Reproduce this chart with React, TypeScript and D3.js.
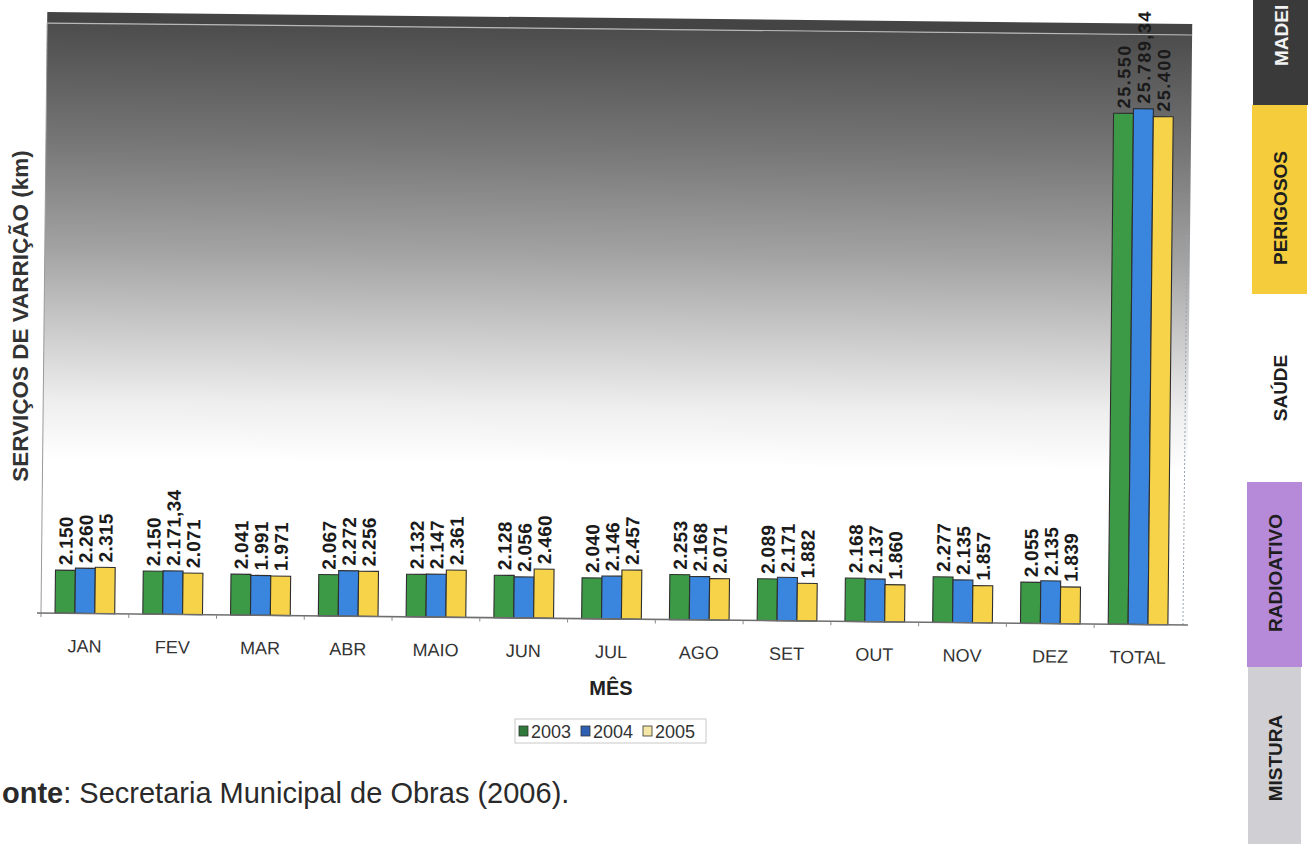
import React from "react";
import * as d3 from "d3";

const months = ["JAN", "FEV", "MAR", "ABR", "MAIO", "JUN", "JUL", "AGO", "SET", "OUT", "NOV", "DEZ", "TOTAL"];
const years = ["2003", "2004", "2005"];
const values2003 = [2150, 2150, 2041, 2067, 2132, 2128, 2040, 2253, 2089, 2168, 2277, 2055, 25550];
const values2004 = [2260, 2171.34, 1991, 2272, 2147, 2056, 2146, 2168, 2171, 2137, 2135, 2135, 25789.34];
const values2005 = [2315, 2071, 1971, 2256, 2361, 2460, 2457, 2071, 1882, 1860, 1857, 1839, 25400];
const seriesValues = [values2003, values2004, values2005];
const seriesColors = ["#3c9a47", "#3a86de", "#f6d348"];
const legendColors = ["#2f7a3a", "#2f5fb3", "#f4e7a6"];
const sideTabs = ["MADEI", "PERIGOSOS", "SAÚDE", "RADIOATIVO", "MISTURA"];

const ptBR = d3.formatLocale({ decimal: ",", thousands: ".", grouping: [3], currency: ["R$", ""] });
const fmt = ptBR.format(",.2~f");

export default function App() {
  const W = 1308;
  const H = 844;
  const plotLeft = 41;
  const plotRight = 1186;
  const plotTop = 23;
  const baseY = 613;

  const x0 = d3.scaleBand<string>().domain(months).range([41, 1182]).paddingInner(0.32).paddingOuter(0.16);
  const x1 = d3.scaleBand<string>().domain(years).range([0, x0.bandwidth()]).padding(0);
  const y = d3.scaleLinear().domain([0, 30000]).range([baseY, 13]);

  const font = "Arial, 'Liberation Sans', Helvetica, sans-serif";

  const tabs = [
    { label: sideTabs[0], x: 1253, w: 56, y0: 0, y1: 105, fill: "#3a3a3a", color: "#f2f2f2", anchor: "start", ty: 66 },
    { label: sideTabs[1], x: 1252, w: 55, y0: 105, y1: 294, fill: "#f5cd3c", color: "#1e1e1e", anchor: "middle", ty: 208 },
    { label: sideTabs[2], x: 1252, w: 55, y0: 0, y1: 0, fill: "none", color: "#1e1e1e", anchor: "middle", ty: 388 },
    { label: sideTabs[3], x: 1247, w: 55, y0: 482, y1: 667, fill: "#b68ad9", color: "#1e1e1e", anchor: "middle", ty: 573 },
    { label: sideTabs[4], x: 1248, w: 53, y0: 667, y1: 844, fill: "#d0d0d4", color: "#1e1e1e", anchor: "middle", ty: 758 },
  ];

  return (
    <svg
      width={W}
      height={H}
      style={{ position: "absolute", left: 0, top: 0, display: "block", background: "#fff" }}
      fontFamily={font}
    >
      <defs>
        <linearGradient id="bgGrad" x1="0" y1="0" x2="0" y2="1">
          <stop offset="0" stopColor="#4c4c4c" />
          <stop offset="0.2" stopColor="#767676" />
          <stop offset="0.38" stopColor="#a2a2a2" />
          <stop offset="0.52" stopColor="#cbcbcb" />
          <stop offset="0.64" stopColor="#eeeeee" />
          <stop offset="0.74" stopColor="#ffffff" />
          <stop offset="1" stopColor="#ffffff" />
        </linearGradient>
      </defs>

      <g transform={`rotate(0.6, ${plotLeft}, ${baseY})`}>
        <rect x={plotLeft} y={plotTop - 11} width={plotRight - plotLeft} height={11} fill="#444" />
        <rect x={plotLeft} y={plotTop} width={plotRight - plotLeft} height={baseY - plotTop} fill="url(#bgGrad)" />
        <line x1={plotLeft} x2={plotRight} y1={plotTop} y2={plotTop} stroke="#b8b8b8" strokeWidth={1.2} />
        <line x1={plotLeft} x2={plotLeft} y1={plotTop} y2={baseY} stroke="#9a9a9a" strokeWidth={1} />
        <line x1={plotRight - 3} x2={plotRight - 3} y1={plotTop + 200} y2={baseY} stroke="#9aa4b0" strokeWidth={1} strokeDasharray="2,2" />

        {months.map((m, i) => (
          <g key={m} transform={`translate(${x0(m)},0)`}>
            {years.map((yr, s) => {
              const v = seriesValues[s][i];
              const bx = x1(yr) as number;
              const bw = x1.bandwidth();
              const top = y(v);
              return (
                <rect key={yr} x={bx} y={top} width={bw} height={baseY - top} fill={seriesColors[s]} stroke="#2e2e2e" strokeWidth={1.1} />
              );
            })}
          </g>
        ))}

        {months.map((m, i) => (
          <g key={"l" + m} transform={`translate(${x0(m)},0)`}>
            {years.map((yr, s) => {
              const v = seriesValues[s][i];
              const cx = (x1(yr) as number) + x1.bandwidth() / 2;
              const top = y(v);
              const isTotal = m === "TOTAL";
              const fs = isTotal ? 18 : 19;
              return (
                <text
                  key={yr}
                  transform={`translate(${cx + fs * 0.36},${top - 5}) rotate(-90)`}
                  fontSize={fs}
                  fontWeight="bold"
                  fill="#1a1a1a"
                  textAnchor="start"
                  letterSpacing={isTotal ? 1.5 : 0.3}
                >
                  {fmt(v)}
                </text>
              );
            })}
          </g>
        ))}

        <line x1={plotLeft - 4} x2={plotRight + 2} y1={baseY} y2={baseY} stroke="#6e6e6e" strokeWidth={1.6} />
        {months.map((m) => (
          <line
            key={"t" + m}
            x1={(x0(m) as number) - (x0.step() - x0.bandwidth()) / 2}
            x2={(x0(m) as number) - (x0.step() - x0.bandwidth()) / 2}
            y1={baseY}
            y2={baseY + 4}
            stroke="#8a8a8a"
            strokeWidth={1}
          />
        ))}
        {months.map((m) => (
          <text
            key={"x" + m}
            x={(x0(m) as number) + x0.bandwidth() / 2}
            y={baseY + 39}
            fontSize={18}
            textAnchor="middle"
            fill="#333"
          >
            {m}
          </text>
        ))}
      </g>

      <text x={611} y={695} fontSize={20} fontWeight="bold" textAnchor="middle" fill="#222">
        MÊS
      </text>

      <text
        transform={`translate(28,316) rotate(-90)`}
        fontSize={22.5}
        fontWeight="bold"
        textAnchor="middle"
        fill="#333"
      >
        SERVIÇOS DE VARRIÇÃO (km)
      </text>

      <rect x={515} y={719} width={191} height={24} fill="#fff" stroke="#c8c8c8" strokeWidth={1} />
      {years.map((yr, s) => {
        const lx = 519 + s * 62;
        return (
          <g key={"lg" + yr}>
            <rect x={lx} y={726} width={9} height={10} fill={legendColors[s]} stroke="#333" strokeWidth={0.8} />
            <text x={lx + 12} y={738} fontSize={18} fill="#333">
              {yr}
            </text>
          </g>
        );
      })}

      <text x={2} y={803} fontSize={29} fill="#2a2a2a">
        <tspan fontWeight="bold">onte</tspan>
        <tspan>: Secretaria Municipal de Obras (2006).</tspan>
      </text>

      {tabs.map((t) => (
        <g key={t.label}>
          {t.fill !== "none" && <rect x={t.x} y={t.y0} width={t.w} height={t.y1 - t.y0} fill={t.fill} />}
          <text
            transform={`translate(${t.x + t.w / 2 + 7},${t.ty}) rotate(-90)`}
            fontSize={19}
            fontWeight="bold"
            textAnchor={t.anchor as any}
            fill={t.color}
          >
            {t.label}
          </text>
        </g>
      ))}
    </svg>
  );
}
